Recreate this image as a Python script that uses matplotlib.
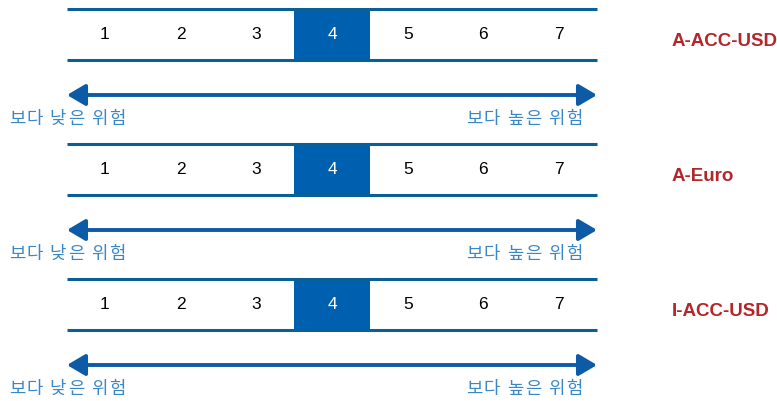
import matplotlib
matplotlib.use("Agg")
import matplotlib.pyplot as plt
from matplotlib.patches import Rectangle, FancyArrowPatch

# data
share_classes = ["A-ACC-USD", "A-Euro", "I-ACC-USD"]
risk_levels = [1, 2, 3, 4, 5, 6, 7]
risk_rating = [4, 4, 4]
low_label = "보다 낮은 위험"
high_label = "보다 높은 위험"

# layout (pixel coords, y down)
W, H = 777, 401
x0, x1 = 67, 597
cell = (x1 - x0) / len(risk_levels)
row_top = [9, 144, 279]
box_h = 51

line_col = "#0A6096"
hi_col = "#0060B0"
arrow_col = "#0D5BA6"
text_blue = "#3A87C8"
label_red = "#B3262A"
kr_font = ["Noto Sans CJK KR", "DejaVu Sans"]

fig = plt.figure(figsize=(W / 100, H / 100), dpi=100)
ax = fig.add_axes([0, 0, 1, 1])
ax.set_xlim(0, W)
ax.set_ylim(H, 0)
ax.axis("off")


def spaced_text(s, x, y, align="left"):
    # wide letter spacing like the original serif font
    adv = [5 if ch == " " else 18 for ch in s]
    if align == "right":
        x = x - sum(adv)
    for ch, a in zip(s, adv):
        if ch != " ":
            ax.text(x + a / 2, y, ch, ha="center", va="center", fontsize=12.8,
                    color=text_blue, family=kr_font)
        x += a


for name, rating, top in zip(share_classes, risk_rating, row_top):
    bot = top + box_h
    mid = top + box_h / 2
    # highlighted cell
    ax.add_patch(Rectangle((x0 + (rating - 1) * cell, top), cell, box_h,
                           facecolor=hi_col, edgecolor="none"))
    ax.plot([x0, x1], [top, top], color=line_col, lw=2.2, solid_capstyle="butt")
    ax.plot([x0, x1], [bot, bot], color=line_col, lw=2.2, solid_capstyle="butt")
    for lv in risk_levels:
        c = "white" if lv == rating else "black"
        ax.text(x0 + (lv - 0.5) * cell, mid, str(lv), ha="center", va="center",
                fontsize=12.5, color=c, family="Liberation Sans")
    ax.text(672, mid + 7, name, ha="left", va="center", fontsize=13.5,
            fontweight="bold", color=label_red, family="Liberation Sans")

    ay = top + 86
    arr = FancyArrowPatch((x0, ay), (x1, ay),
                          arrowstyle="<|-|>,head_length=11,head_width=6.5",
                          mutation_scale=1, color=arrow_col, lw=2.8,
                          shrinkA=0, shrinkB=0)
    ax.add_patch(arr)
    spaced_text(low_label, 8, ay + 24)
    spaced_text(high_label, 583, ay + 24, align="right")

fig.savefig("out.png", dpi=100)
